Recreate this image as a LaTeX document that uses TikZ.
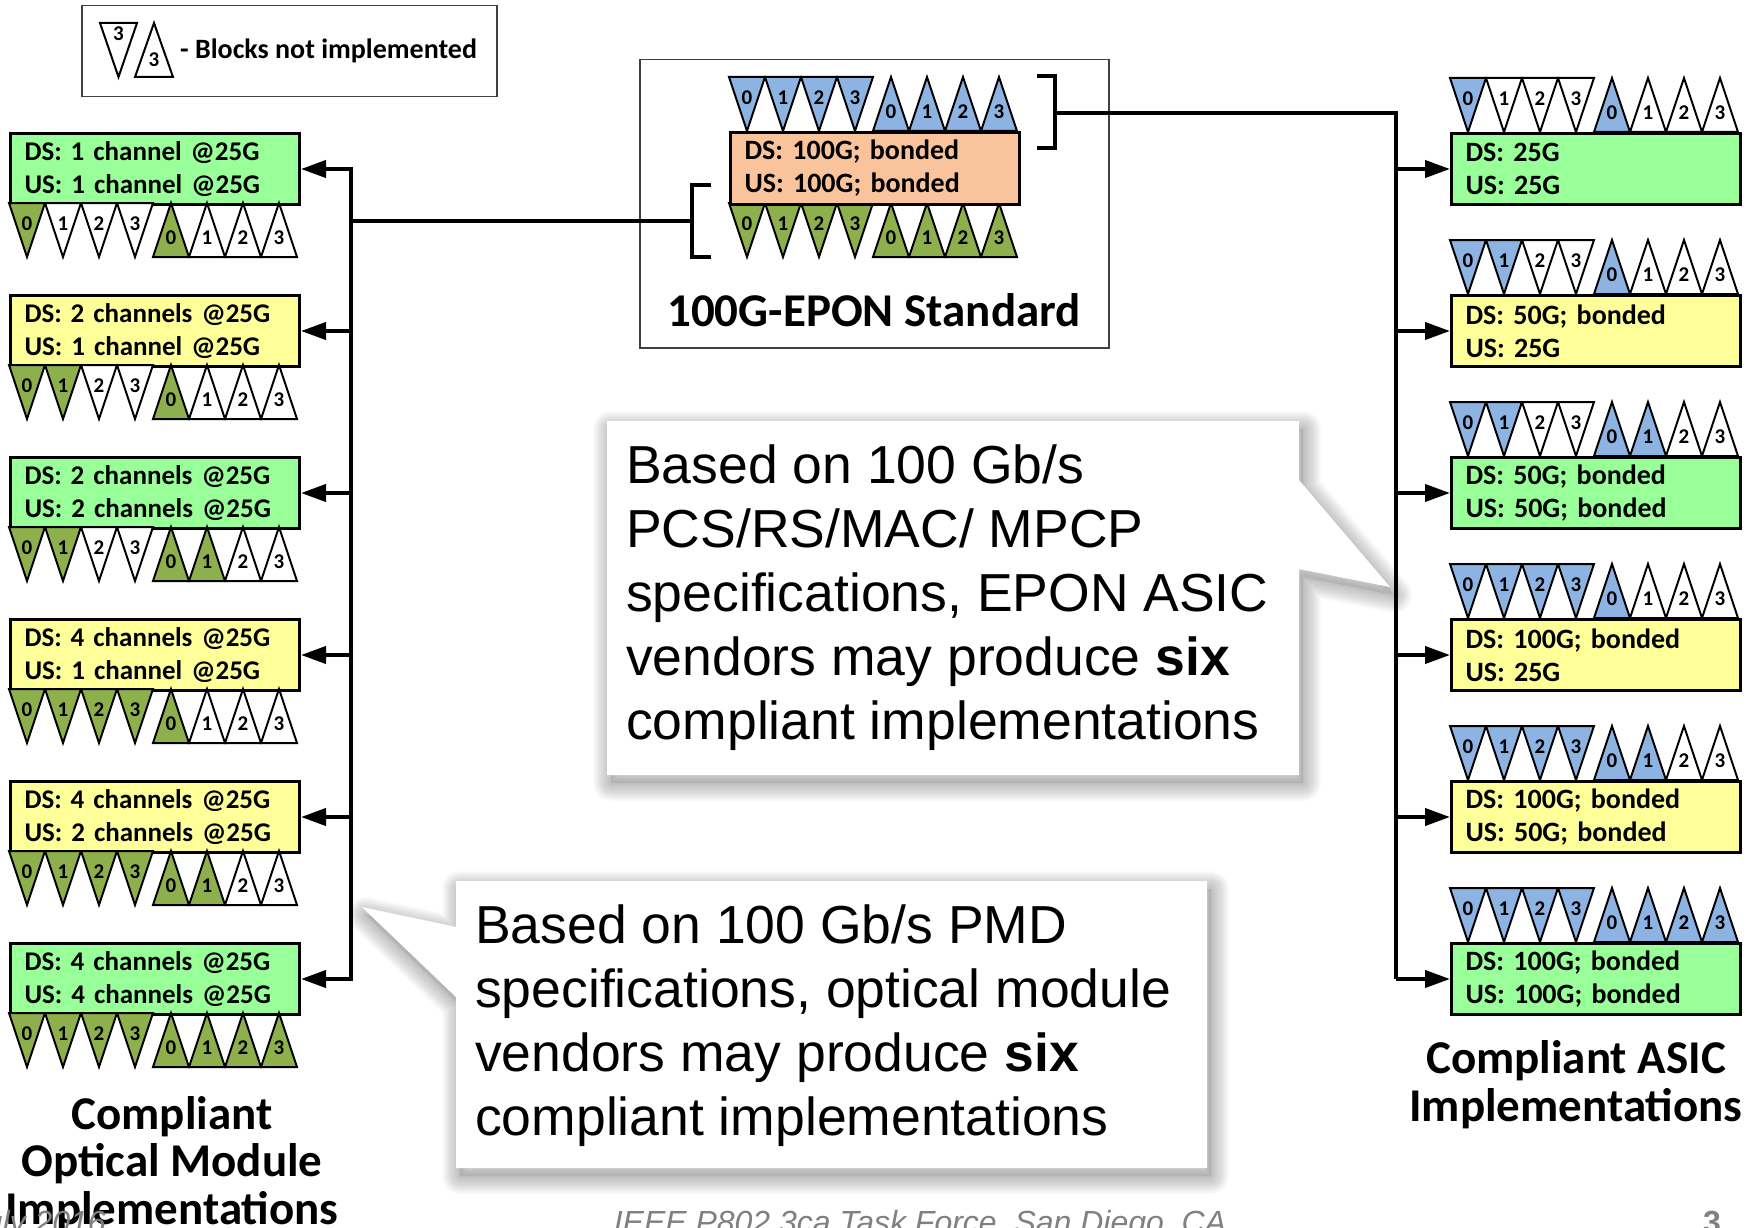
\documentclass[tikz,border=0pt]{standalone}
\usepackage{fontspec}
\setmainfont{Carlito}
\newfontfamily\narrowbox[WordSpace=0.6]{Carlito}
\newfontfamily\callfont{Liberation Sans}
\usetikzlibrary{arrows.meta}

\definecolor{boxgreen}{HTML}{99FF99}
\definecolor{boxyellow}{HTML}{FFFF99}
\definecolor{boxorange}{HTML}{F9C39B}
\definecolor{olv}{HTML}{8DAF4C}
\definecolor{blu}{HTML}{8DB3E2}
\colorlet{wht}{white}

% one row of four down-pointing and four up-pointing block triangles
% #1 name prefix, #2 left x, #3 top y, #4 fills of the down row, #5 fills of the up row
\newcommand\blockrow[5]{%
  \foreach \f [count=\i from 0] in {#4} {
    \pgfmathsetmacro\xa{#2+36*\i}
    \filldraw[blk, fill=\f] (\xa,#3) -- ++(36,0) -- ++(-18,54) -- cycle;
    \node[dig] (#1-d\i) at (\xa+18,#3+21) {\i};
  }
  \foreach \f [count=\i from 0] in {#5} {
    \pgfmathsetmacro\xa{#2+144+36*\i}
    \filldraw[blk, fill=\f] (\xa,#3+54) -- ++(36,0) -- ++(-18,-54) -- cycle;
    \node[dig] (#1-u\i) at (\xa+18,#3+35) {\i};
  }
}

% speech-bubble outlines
\newcommand\bubbleA[1]{\path[#1] (607,421) -- (1299,421) -- (1299,480) -- (1390,587)
  -- (1299,569) -- (1299,775) -- (607,775) -- cycle;}
\newcommand\bubbleB[1]{\path[#1] (456,881) -- (1207,881) -- (1207,1168) -- (456,1168)
  -- (456,997) -- (362,907) -- (456,927) -- cycle;}
% soft drop shadow under a bubble
\newcommand\softshadow[1]{%
  #1{fill=black, fill opacity=0.08, shift={(4,8)}}
  \foreach \w in {2,4,...,36} {#1{draw=black, draw opacity=0.016, line width=\w pt, line join=round, shift={(4,8)}}}
}

\begin{document}
\frenchspacing
\begin{tikzpicture}[x=1pt, y=-1pt,
  blk/.style={draw=black, line width=2pt, line join=miter},
  dig/.style={font=\fontsize{21}{21}\selectfont\bfseries, inner sep=0pt},
  box/.style={draw=black, line width=3pt, anchor=north west, text width=261pt,
    inner xsep=14pt, inner ysep=0pt, minimum height=71pt, align=left,
    font=\fontsize{28}{33}\selectfont\bfseries},
  chbox/.style={box, font=\narrowbox\fontsize{27}{33}\selectfont\bfseries},
  bus/.style={line width=4pt},
  arr/.style={line width=4pt, -{Triangle[length=25pt,width=17pt]}},
  thinframe/.style={draw=black!75, line width=1.5pt},
  lbl/.style={font=\fontsize{47}{48}\selectfont\bfseries, anchor=base, inner sep=0pt},
  calltxt/.style={font=\callfont\fontsize{53.5}{64}\selectfont, anchor=base west, inner sep=0pt},
  foot/.style={font=\callfont\itshape\fontsize{32}{32}\selectfont, text=black!50, anchor=base, inner sep=0pt}]
\useasboundingbox (0,0) rectangle (1758,1228);

% ---------- legend ----------
\node[thinframe, anchor=north west, minimum width=415pt, minimum height=91pt, inner sep=0pt] (legend) at (81,5) {};
\filldraw[blk, fill=white] (100,23) -- (137,23) -- (118.5,77) -- cycle;
\node[dig] (leg-d) at (118.5,34) {3};
\filldraw[blk, fill=white] (135,77) -- (173,77) -- (154,23) -- cycle;
\node[dig] (leg-u) at (154,60) {3};
\node[font=\fontsize{28}{33}\selectfont\bfseries, anchor=base west, inner sep=0pt] (legtxt) at (180,59) {- Blocks not implemented};

% ---------- 100G-EPON standard ----------
\node[thinframe, anchor=north west, minimum width=469pt, minimum height=288pt, inner sep=0pt] (std) at (639,59) {};
\blockrow{ct}{729}{77}{blu,blu,blu,blu}{blu,blu,blu,blu}
\blockrow{cb}{729}{203}{olv,olv,olv,olv}{olv,olv,olv,olv}
\node[box, fill=boxorange, minimum height=72pt] (C) at (729,131) {DS: 100G; bonded\\US: 100G; bonded};
\node[lbl] (stdtitle) at (874,326) {100G-EPON Standard};
\draw[bus] (711,185) -- (692,185) -- (692,257) -- (711,257);
\draw[bus] (1037,76) -- (1055,76) -- (1055,148) -- (1037,148);
\coordinate (lbr) at (692,221);
\coordinate (rbr) at (1055,113);

% ---------- optical module implementations ----------
\node[chbox, fill=boxgreen]  (L1) at (9,132) {DS: 1 channel @25G\\US: 1 channel @25G};
\node[chbox, fill=boxyellow] (L2) at (9,294) {DS: 2 channels @25G\\US: 1 channel @25G};
\node[chbox, fill=boxgreen]  (L3) at (9,456) {DS: 2 channels @25G\\US: 2 channels @25G};
\node[chbox, fill=boxyellow] (L4) at (9,618) {DS: 4 channels @25G\\US: 1 channel @25G};
\node[chbox, fill=boxyellow] (L5) at (9,780) {DS: 4 channels @25G\\US: 2 channels @25G};
\node[chbox, fill=boxgreen]  (L6) at (9,942) {DS: 4 channels @25G\\US: 4 channels @25G};
\blockrow{l1}{9}{203}{olv,wht,wht,wht}{olv,wht,wht,wht}
\blockrow{l2}{9}{365}{olv,olv,wht,wht}{olv,wht,wht,wht}
\blockrow{l3}{9}{527}{olv,olv,wht,wht}{olv,olv,wht,wht}
\blockrow{l4}{9}{689}{olv,olv,olv,olv}{olv,wht,wht,wht}
\blockrow{l5}{9}{851}{olv,olv,olv,olv}{olv,olv,wht,wht}
\blockrow{l6}{9}{1013}{olv,olv,olv,olv}{olv,olv,olv,olv}
\node[lbl] (ltitle1) at (172,1129) {Compliant};
\node[lbl] (ltitle2) at (172,1176) {Optical Module};
\node[lbl] (ltitle3) at (172,1224) {Implementations};

% ---------- ASIC implementations ----------
\blockrow{r1}{1450}{78}{blu,wht,wht,wht}{blu,wht,wht,wht}
\blockrow{r2}{1450}{240}{blu,blu,wht,wht}{blu,wht,wht,wht}
\blockrow{r3}{1450}{402}{blu,blu,wht,wht}{blu,blu,wht,wht}
\blockrow{r4}{1450}{564}{blu,blu,blu,blu}{blu,wht,wht,wht}
\blockrow{r5}{1450}{726}{blu,blu,blu,blu}{blu,blu,wht,wht}
\blockrow{r6}{1450}{888}{blu,blu,blu,blu}{blu,blu,blu,blu}
\node[box, fill=boxgreen]  (R1) at (1450,132) {DS: 25G\\US: 25G};
\node[box, fill=boxyellow] (R2) at (1450,294) {DS: 50G; bonded\\US: 25G};
\node[box, fill=boxgreen]  (R3) at (1450,456) {DS: 50G; bonded\\US: 50G; bonded};
\node[box, fill=boxyellow] (R4) at (1450,618) {DS: 100G; bonded\\US: 25G};
\node[box, fill=boxyellow] (R5) at (1450,780) {DS: 100G; bonded\\US: 50G; bonded};
\node[box, fill=boxgreen]  (R6) at (1450,942) {DS: 100G; bonded\\US: 100G; bonded};
\node[lbl] (rtitle1) at (1576,1073) {Compliant ASIC};
\node[lbl] (rtitle2) at (1576,1121) {Implementations};

% ---------- distribution buses ----------
\coordinate (lj) at (351,221);
\coordinate (rj) at (1396,113);
\draw[bus] (lbr) -- (lj);
\draw[bus, line cap=rect] (L1.east -| lj) -- (L6.east -| lj);
\foreach \k in {1,...,6} \draw[arr] (L\k.east -| lj) -- (L\k.east);
\draw[bus, line join=miter] (rbr) -- (rj) -- (R6.west -| rj);
\foreach \k in {1,...,6} \draw[arr] (R\k.west -| rj) -- (R\k.west);

% ---------- speech bubbles ----------
\softshadow{\bubbleA}
\bubbleA{fill=white}
\node[calltxt] (a1) at (626,483) {Based on 100 Gb/s};
\node[calltxt] (a2) at (626,547) {PCS/RS/MAC/ MPCP};
\node[calltxt] (a3) at (626,611) {specifications, EPON ASIC};
\node[calltxt] (a4) at (626,675) {vendors may produce \textbf{six}};
\node[calltxt] (a5) at (626,739) {compliant implementations};

\softshadow{\bubbleB}
\bubbleB{fill=white}
\node[calltxt] (b1) at (475,943) {Based on 100 Gb/s PMD};
\node[calltxt] (b2) at (475,1007) {specifications, optical module};
\node[calltxt] (b3) at (475,1071) {vendors may produce \textbf{six}};
\node[calltxt] (b4) at (475,1135) {compliant implementations};

% ---------- footer ----------
\node[foot, anchor=base east] (fdate) at (106,1233) {July 2016};
\node[foot] (fmeet) at (920,1233) {IEEE P802.3ca Task Force, San Diego, CA};
\node[foot, font=\callfont\bfseries\fontsize{32}{32}\selectfont] (fpage) at (1712,1233) {3};
\end{tikzpicture}
\end{document}
